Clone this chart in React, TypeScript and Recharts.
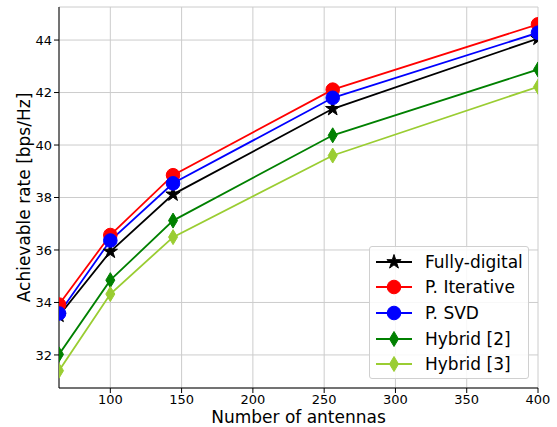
import React from "react";
import {
  LineChart,
  Line,
  XAxis,
  YAxis,
  CartesianGrid,
  Label,
} from "recharts";

// number of antennas
const antennas = [64, 100, 144, 256, 400];

// achievable rate [bps/Hz]
const fullyDigital = [33.5, 35.94, 38.12, 41.38, 44.06];
const pIterative = [33.92, 36.57, 38.85, 42.11, 44.6];
const pSvd = [33.58, 36.36, 38.54, 41.8, 44.28];
const hybrid2 = [32.02, 34.85, 37.12, 40.37, 42.88];
const hybrid3 = [31.4, 34.32, 36.49, 39.6, 42.22];

const xTicks = [100, 150, 200, 250, 300, 350, 400];
const yTicks = [32, 34, 36, 38, 40, 42, 44];

const data = antennas.map((n, i) => ({
  n,
  fd: fullyDigital[i],
  pi: pIterative[i],
  psvd: pSvd[i],
  h2: hybrid2[i],
  h3: hybrid3[i],
}));

const FONT = "DejaVu Sans, sans-serif";

type Shape = "star" | "circle" | "diamond";

function markerPath(shape: Shape, cx: number, cy: number, s: number) {
  if (shape === "diamond") {
    const w = s * 0.6;
    return `M${cx},${cy - s}L${cx + w},${cy}L${cx},${cy + s}L${cx - w},${cy}Z`;
  }
  const pts: string[] = [];
  for (let k = 0; k < 10; k++) {
    const r = k % 2 === 0 ? s : s * 0.38;
    const a = -Math.PI / 2 + (k * Math.PI) / 5;
    pts.push(`${cx + r * Math.cos(a)},${cy + r * Math.sin(a)}`);
  }
  return `M${pts.join("L")}Z`;
}

function Marker({ shape, cx, cy, color }: { shape: Shape; cx: number; cy: number; color: string }) {
  if (shape === "circle") {
    return <circle cx={cx} cy={cy} r={6.8} fill={color} stroke={color} strokeWidth={1} />;
  }
  return <path d={markerPath(shape, cx, cy, 7.5)} fill={color} stroke={color} strokeWidth={1} />;
}

const series: { key: string; name: string; color: string; shape: Shape }[] = [
  { key: "fd", name: "Fully-digital", color: "#000000", shape: "star" },
  { key: "pi", name: "P. Iterative", color: "#ff0000", shape: "circle" },
  { key: "psvd", name: "P. SVD", color: "#0000ff", shape: "circle" },
  { key: "h2", name: "Hybrid [2]", color: "#008000", shape: "diamond" },
  { key: "h3", name: "Hybrid [3]", color: "#9acd32", shape: "diamond" },
];

function LegendBox() {
  return (
    <div
      style={{
        position: "absolute",
        left: 369,
        top: 246,
        width: 160,
        height: 133,
        border: "1px solid #d0d0d0",
        borderRadius: 3,
        background: "rgba(255,255,255,0.85)",
        boxSizing: "border-box",
        paddingTop: 2,
      }}
    >
      {series.map((s) => (
        <div
          key={s.key}
          style={{ display: "flex", alignItems: "center", height: 25.6, fontFamily: FONT, fontSize: 17, color: "#000" }}
        >
          <svg width={50} height={22} style={{ marginLeft: 5, flex: "none" }}>
            <line x1={1} y1={11} x2={37} y2={11} stroke={s.color} strokeWidth={1.8} />
            <Marker shape={s.shape} cx={19} cy={11} color={s.color} />
          </svg>
          <span style={{ whiteSpace: "nowrap" }}>{s.name}</span>
        </div>
      ))}
    </div>
  );
}

export default function App() {
  return (
    <div style={{ position: "fixed", left: 0, top: 0, width: 557, height: 427, background: "#fff" }}>
      <LineChart
        width={557}
        height={427}
        data={data}
        margin={{ top: 7, right: 19, left: 0, bottom: 0 }}
      >
        <CartesianGrid stroke="#cccccc" strokeWidth={1} />
        <XAxis
          dataKey="n"
          type="number"
          domain={[64, 400]}
          ticks={xTicks}
          allowDataOverflow
          height={39}
          stroke="#000"
          tickSize={5}
          tick={{ fill: "#000", fontSize: 13, fontFamily: FONT }}
        >
          <Label
            value="Number of antennas"
            position="insideBottom"
            offset={4}
            style={{ fill: "#000", fontSize: 17, fontFamily: FONT }}
          />
        </XAxis>
        <XAxis
          xAxisId="top"
          orientation="top"
          dataKey="n"
          type="number"
          domain={[64, 400]}
          height={0}
          tick={false}
          tickLine={false}
          stroke="#000"
        />
        <YAxis
          type="number"
          domain={[30.74, 45.26]}
          ticks={yTicks}
          allowDataOverflow
          width={59}
          stroke="#000"
          tickSize={5}
          tick={{ fill: "#000", fontSize: 13, fontFamily: FONT }}
        >
          <Label
            value="Achievable rate [bps/Hz]"
            angle={-90}
            position="insideLeft"
            offset={24}
            style={{ fill: "#000", fontSize: 17, fontFamily: FONT, textAnchor: "middle" }}
          />
        </YAxis>
        <YAxis
          yAxisId="right"
          orientation="right"
          type="number"
          domain={[30.74, 45.26]}
          width={0}
          tick={false}
          tickLine={false}
          stroke="#000"
        />
        {series.map((s) => (
          <Line
            key={s.key}
            dataKey={s.key}
            name={s.name}
            stroke={s.color}
            strokeWidth={1.8}
            isAnimationActive={false}
            dot={(p: any) => <Marker key={`${s.key}-${p.index}`} shape={s.shape} cx={p.cx} cy={p.cy} color={s.color} />}
            activeDot={false}
          />
        ))}
      </LineChart>
      <LegendBox />
    </div>
  );
}
